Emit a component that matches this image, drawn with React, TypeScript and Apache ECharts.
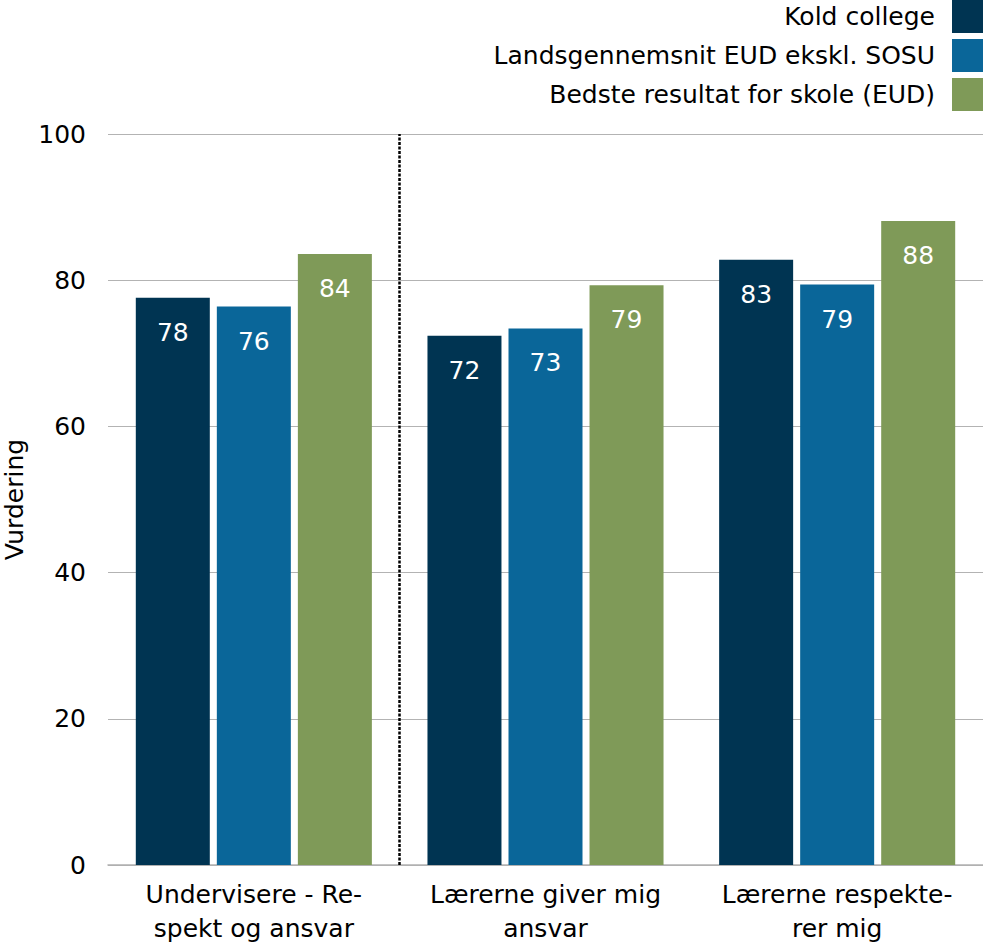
import React, { useEffect, useRef } from "react";
import * as echarts from "echarts";

const categories = ["Undervisere - Re-\nspekt og ansvar", "Lærerne giver mig\nansvar", "Lærerne respekte-\nrer mig"];
const seriesNames = ["Kold college", "Landsgennemsnit EUD ekskl. SOSU", "Bedste resultat for skole (EUD)"];
const koldValues = [77.6, 72.4, 82.8];
const landsValues = [76.4, 73.4, 79.4];
const bedsteValues = [83.6, 79.3, 88.1];
const colors = ["#003452", "#0a6699", "#7f9a58"];
const separatorPosition = 1; // boundary after the first category

const FONT = "DejaVu Sans";
const FS = 25;

export default function App() {
  const ref = useRef<HTMLDivElement>(null);
  useEffect(() => {
    if (!ref.current) return;
    const chart = echarts.init(ref.current, undefined, { renderer: "svg" });
    const data = [koldValues, landsValues, bedsteValues];
    chart.setOption({
      animation: false,
      textStyle: { fontFamily: FONT },
      legend: {
        orient: "vertical",
        right: 0,
        top: 0,
        padding: 0,
        align: "right",
        itemWidth: 31,
        itemHeight: 33,
        itemGap: 6,
        icon: "rect",
        textStyle: { fontFamily: FONT, fontSize: FS, color: "#000", padding: [0, 12, 0, 0] },
        data: seriesNames,
      },
      grid: { left: 108, right: 0, top: 134, bottom: 83, containLabel: false, outerBoundsMode: "none" },
      xAxis: [
        {
          type: "category",
          data: categories,
          axisLine: { show: true, lineStyle: { color: "#b0b0b0", width: 1.5 } },
          axisTick: { show: false },
          axisLabel: { fontFamily: FONT, fontSize: FS, color: "#000", lineHeight: 34, margin: 12, interval: 0 },
          splitLine: { show: false },
        },
        {
          type: "value",
          min: 0,
          max: categories.length,
          show: false,
          splitLine: { show: false },
        },
      ],
      yAxis: {
        type: "value",
        min: 0,
        max: 100,
        interval: 20,
        name: "Vurdering",
        nameLocation: "middle",
        nameGap: 79,
        nameTextStyle: { fontFamily: FONT, fontSize: FS, color: "#000" },
        axisLabel: { fontFamily: FONT, fontSize: FS, color: "#000", margin: 22 },
        axisLine: { show: false },
        axisTick: { show: false },
        splitLine: { lineStyle: { color: "#b3b3b3", width: 1 } },
      },
      series: [
        ...seriesNames.map((name, i) => ({
          name,
          type: "bar",
          data: data[i],
          xAxisIndex: 0,
          itemStyle: { color: colors[i] },
          barWidth: 74,
          barGap: "9.5%",
          label: {
            show: true,
            position: "insideTop",
            distance: 22,
            color: "#fff",
            fontFamily: FONT,
            fontSize: FS,
            formatter: (p: any) => String(Math.round(p.value)),
          },
        })),
        {
          name: "separator",
          type: "line",
          xAxisIndex: 1,
          data: [],
          silent: true,
          z: 5,
          markLine: {
            silent: true,
            symbol: "none",
            label: { show: false },
            lineStyle: { color: "#000", type: [3, 1.5], width: 2.5 },
            data: [{ xAxis: separatorPosition }],
          },
        },
      ],
    });
    return () => chart.dispose();
  }, []);
  return <div ref={ref} style={{ width: 983, height: 948, position: "absolute", left: 0, top: 0 }} />;
}
